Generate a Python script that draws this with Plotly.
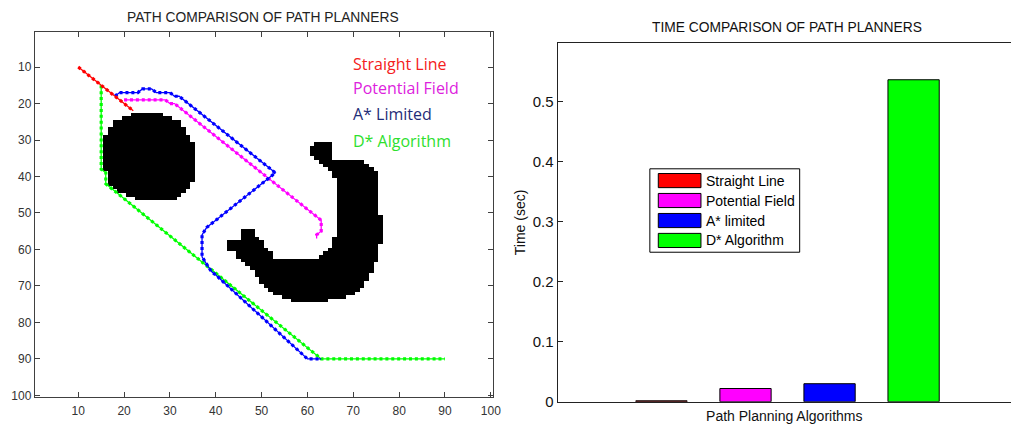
import plotly.graph_objects as go

# ---------------- data ----------------
AXIS_TICKS = [10, 20, 30, 40, 50, 60, 70, 80, 90, 100]

# Obstacle 1 (disc): occupied grid cells per row -> row, first column, last column
DISC_ROW = [23, 24, 25, 26, 27, 28, 29, 30, 31, 32, 33, 34, 35, 36, 37, 38, 39, 40, 41, 42, 43, 44, 45, 46]
DISC_X0 = [22, 20, 18, 18, 17, 17, 16, 16, 16, 16, 16, 16, 16, 16, 16, 16, 17, 17, 17, 17, 18, 19, 21, 23]
DISC_X1 = [28, 30, 32, 32, 33, 33, 34, 34, 35, 35, 35, 35, 35, 35, 35, 35, 35, 35, 35, 34, 34, 33, 32, 31]

# Obstacle 2 (C shape): row spans
C_ROW = [31, 32, 33, 34, 35, 36, 37, 38, 39, 40,
         41, 42, 43, 44, 45, 46, 47, 48, 49, 50, 51, 52, 53, 54,
         55, 55, 56, 56, 57, 57, 58, 58, 59, 59, 60, 60, 61, 61, 62, 62,
         63, 64, 65, 66, 67, 68, 69, 70, 71, 72, 73, 74]
C_X0 = [62, 61, 61, 61, 62, 63, 64, 65, 66, 66,
        67, 67, 67, 67, 67, 67, 67, 67, 67, 67, 67, 67, 67, 67,
        46, 67, 46, 67, 46, 66, 43, 66, 43, 66, 43, 65, 45, 64, 45, 63,
        46, 47, 48, 49, 49, 50, 50, 51, 52, 53, 55, 57]
C_X1 = [65, 65, 65, 65, 65, 72, 73, 74, 75, 75,
        75, 75, 75, 75, 75, 75, 75, 75, 75, 75, 76, 76, 76, 76,
        48, 76, 48, 76, 49, 76, 50, 76, 50, 75, 51, 75, 52, 75, 52, 75,
        75, 74, 74, 74, 73, 73, 72, 72, 71, 70, 68, 64]

# Paths (grid coordinates of vertices)
STRAIGHT_X = [10, 22]
STRAIGHT_Y = [10, 22]
POTENTIAL_X = [20, 29, 30, 31, 63, 63, 62, 62]
POTENTIAL_Y = [19, 19, 20, 20, 52, 55, 56, 57]
ASTAR_X = [18, 19, 23, 24, 26, 27, 30, 31, 32, 53, 40, 38, 37, 37, 38, 39, 40, 60, 63]
ASTAR_Y = [18, 17, 17, 16, 16, 17, 17, 18, 18, 39, 52, 54, 56, 62, 64, 66, 67, 90, 90]
DSTAR_X = [15, 15, 16, 16, 63, 90]
DSTAR_Y = [15, 38, 39, 42, 90, 90]

PATH_LABELS = ["Straight Line", "Potential Field", "A* Limited", "D* Algorithm"]

# Bar chart
ALGORITHMS = ["Straight Line", "Potential Field", "A* limited", "D* Algorithm"]
TIMES = [0.0015, 0.022, 0.030, 0.537]
TIME_TICKS = [0, 0.1, 0.2, 0.3, 0.4, 0.5]
TIME_TICKTEXT = ["0", "0.1", "0.2", "0.3", "0.4", "0.5"]

COLORS = ["#ff0000", "#ff00ff", "#0000ff", "#00ff00"]
LABEL_COLORS = ["#f42020", "#dd22dd", "#1f2d78", "#2ee02e"]

# ---------------- figure ----------------
W, H = 1019, 431
FONT = "Liberation Sans, Arial, sans-serif"


def px_x(p):
    return p / W


def px_y(p):
    return (H - p) / H


fig = go.Figure()

# obstacle map
z = [[None] * 100 for _ in range(100)]
for rows, x0s, x1s in ((DISC_ROW, DISC_X0, DISC_X1), (C_ROW, C_X0, C_X1)):
    for r, a, b in zip(rows, x0s, x1s):
        for c in range(a, b + 1):
            z[r - 1][c - 1] = 1
fig.add_trace(go.Heatmap(
    x=list(range(1, 101)), y=list(range(1, 101)), z=z,
    colorscale=[[0, "black"], [1, "black"]], zmin=0, zmax=1,
    showscale=False, hoverinfo="skip", xaxis="x", yaxis="y"))

paths = [
    (DSTAR_X, DSTAR_Y, COLORS[3]),
    (POTENTIAL_X, POTENTIAL_Y, COLORS[1]),
    (ASTAR_X, ASTAR_Y, COLORS[2]),
    (STRAIGHT_X, STRAIGHT_Y, COLORS[0]),
]
for xs, ys, col in paths:
    fig.add_trace(go.Scatter(x=xs, y=ys, mode="lines", line=dict(color=col, width=1.3),
                             showlegend=False, hoverinfo="skip", xaxis="x", yaxis="y"))
    fig.add_trace(go.Scatter(x=xs, y=ys, mode="lines",
                             line=dict(color=col, width=3.2, dash="3px,2.9px"),
                             showlegend=False, hoverinfo="skip", xaxis="x", yaxis="y"))

# path labels (coloured text)
label_y = [9.3, 15.8, 23.0, 30.2]
for txt, col, yy in zip(PATH_LABELS, LABEL_COLORS, label_y):
    fig.add_annotation(x=69.5, y=yy, xref="x", yref="y", text=txt, showarrow=False,
                       xanchor="left", yanchor="middle",
                       font=dict(family="Open Sans, sans-serif", size=16, color=col))

# bars
for name, t, col in zip(ALGORITHMS, TIMES, COLORS):
    fig.add_trace(go.Bar(x=[name], y=[t], name=name, width=0.61,
                         marker=dict(color=col, line=dict(color="black", width=1)),
                         showlegend=False, xaxis="x2", yaxis="y2"))

# custom legend for bar chart
lx0, lx1, ly0, ly1 = 655, 806, 172, 257
fig.add_shape(type="rect", xref="paper", yref="paper",
              x0=px_x(lx0), x1=px_x(lx1), y0=px_y(ly1), y1=px_y(ly0),
              line=dict(color="black", width=1), fillcolor="white")
row_centers = [184, 204.3, 224.7, 245]
for name, col, cy in zip(ALGORITHMS, COLORS, row_centers):
    fig.add_shape(type="rect", xref="paper", yref="paper",
                  x0=px_x(663.5), x1=px_x(706.5), y0=px_y(cy + 7.2), y1=px_y(cy - 7.2),
                  line=dict(color="black", width=1), fillcolor=col)
    fig.add_annotation(x=px_x(709.5), y=px_y(cy), xref="paper", yref="paper", text=name,
                       showarrow=False, xanchor="left", yanchor="middle",
                       font=dict(family=FONT, size=14, color="black"))

# subplot titles
fig.add_annotation(x=px_x(265), y=px_y(17.5), xref="paper", yref="paper",
                   text="PATH COMPARISON OF PATH PLANNERS", showarrow=False,
                   xanchor="center", yanchor="middle", font=dict(family=FONT, size=13.8, color="#222"))
fig.add_annotation(x=px_x(793), y=px_y(28), xref="paper", yref="paper",
                   text="TIME COMPARISON OF PATH PLANNERS", showarrow=False,
                   xanchor="center", yanchor="middle", font=dict(family=FONT, size=13.8, color="#111"))

left_axis = dict(showline=True, linecolor="#404040", linewidth=1, mirror="ticks",
                 ticks="inside", ticklen=5, tickcolor="#404040", showgrid=False, zeroline=False,
                 tickvals=AXIS_TICKS, tickfont=dict(family=FONT, size=12, color="#333"))

fig.update_layout(
    width=W, height=H, margin=dict(l=0, r=0, t=0, b=0),
    paper_bgcolor="white", plot_bgcolor="white",
    barmode="overlay", showlegend=False,
    xaxis=dict(domain=[px_x(35), px_x(497)], range=[0.5, 100.5], anchor="y",
               ticklabelstandoff=2, **left_axis),
    yaxis=dict(domain=[px_y(404.7), px_y(33)], range=[100.5, 0.5], anchor="x", **left_axis),
    xaxis2=dict(domain=[px_x(562), 1.0], range=[-1.236, 4.159], anchor="y2", type="category",
                showline=True, linecolor="#222", linewidth=1, mirror=True, ticks="",
                showticklabels=False, showgrid=False, zeroline=False,
                title=dict(text="Path Planning Algorithms", standoff=9,
                           font=dict(family=FONT, size=14, color="#111"))),
    yaxis2=dict(domain=[px_y(409.3), px_y(44)], range=[0, 0.598], anchor="x2",
                showline=True, linecolor="#222", linewidth=1, mirror=False,
                ticks="inside", ticklen=5, tickcolor="#222", showgrid=False, zeroline=False,
                tickvals=TIME_TICKS, ticktext=TIME_TICKTEXT,
                tickfont=dict(family=FONT, size=15, color="#111"),
                title=dict(text="Time (sec)", standoff=3,
                           font=dict(family=FONT, size=14, color="#111"))),
)

fig.write_html("out.html",
               post_script="document.body.style.margin='0';document.body.style.overflow='hidden';")
